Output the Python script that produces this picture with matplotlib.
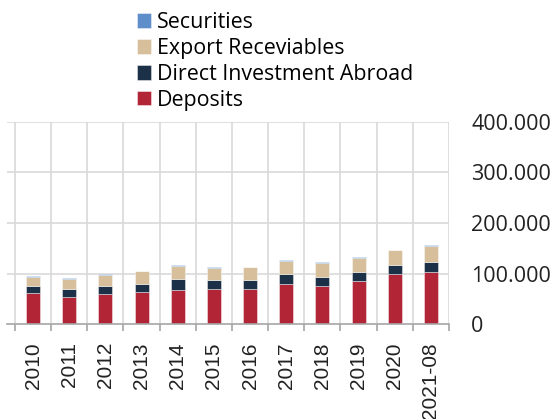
import matplotlib
matplotlib.use("Agg")
import matplotlib.pyplot as plt
import numpy as np
from matplotlib.ticker import FuncFormatter, FixedLocator

years = ["2010", "2011", "2012", "2013", "2014", "2015",
         "2016", "2017", "2018", "2019", "2020", "2021-08"]

deposits = [61500, 54300, 60200, 64000, 67400, 70000,
            68500, 79000, 75000, 84500, 99600, 102000]
direct_investment = [13000, 14300, 15100, 15800, 20900, 16300,
                     18000, 20500, 17400, 18500, 16400, 20500]
export_receivables = [19500, 21000, 22700, 24200, 26200, 24700,
                      25500, 26000, 28400, 27500, 30500, 32500]
securities = [1500, 1400, 1400, 1200, 2000, 1500,
              1200, 2000, 1300, 1200, 1000, 1000]

series = [
    ("Deposits", deposits, "#B12536"),
    ("Direct Investment Abroad", direct_investment, "#1C3047"),
    ("Export Receviables", export_receivables, "#D6BF9A"),
    ("Securities", securities, "#5E8FCB"),
]

W, H = 551, 419
fig = plt.figure(figsize=(W / 100, H / 100), dpi=100)

# axes box in pixel coordinates
left_px, right_px, top_px, bottom_px = 7, 449, 122, 324
ax = fig.add_axes([left_px / W, 1 - bottom_px / H,
                   (right_px - left_px) / W, (bottom_px - top_px) / H])

n = len(years)
x = np.arange(n)
cat_w = (right_px - 15) / n
ax.set_xlim(-0.5 - (15 - left_px) / cat_w, n - 0.5)
ax.set_ylim(0, 400000)

grid_c = "#D9D9D9"
for k in range(n + 1):
    ax.axvline(k - 0.5, color=grid_c, lw=1.2, zorder=0)
for v in [100000, 200000, 300000, 400000]:
    ax.axhline(v, color=grid_c, lw=1.2, zorder=0)

bottom = np.zeros(n)
handles = []
for name, vals, col in series:
    vals = np.array(vals, dtype=float)
    b = ax.bar(x, vals, 0.39, bottom=bottom, color=col,
               edgecolor=(1, 1, 1, 0.5), linewidth=0.6, label=name, zorder=2)
    handles.append(b)
    bottom += vals

for s in ["top", "left", "right"]:
    ax.spines[s].set_visible(False)
ax.spines["bottom"].set_color("#A6A6A6")
ax.spines["bottom"].set_linewidth(1.2)

ax.set_xticks(x)
ax.set_xticklabels(years, rotation=90, family="Liberation Sans",
                   fontsize=15, color="#222222")
ax.tick_params(axis="x", which="major", length=0, pad=13)
ax.xaxis.set_minor_locator(FixedLocator(np.arange(n + 1) - 0.5))
ax.tick_params(axis="x", which="minor", length=5, width=1.2,
               color="#A6A6A6")

ax.yaxis.tick_right()
ax.set_yticks([0, 100000, 200000, 300000, 400000])
ax.yaxis.set_major_formatter(
    FuncFormatter(lambda v, p: f"{v:,.0f}".replace(",", "."))
)
ax.tick_params(axis="y", length=0, pad=16, labelsize=15.5,
               labelcolor="#222222")
for t in ax.get_yticklabels():
    t.set_family("Open Sans")

fig.legend(handles[::-1], [s[0] for s in series][::-1],
           loc="upper left", bbox_to_anchor=(137 / W, 1 - 12 / H),
           frameon=False, prop={"family": "Open Sans", "size": 15.4},
           handlelength=0.66, handleheight=0.66, handletextpad=0.28,
           labelspacing=0.23, borderpad=0, borderaxespad=0)

fig.savefig("out.png", dpi=100)
